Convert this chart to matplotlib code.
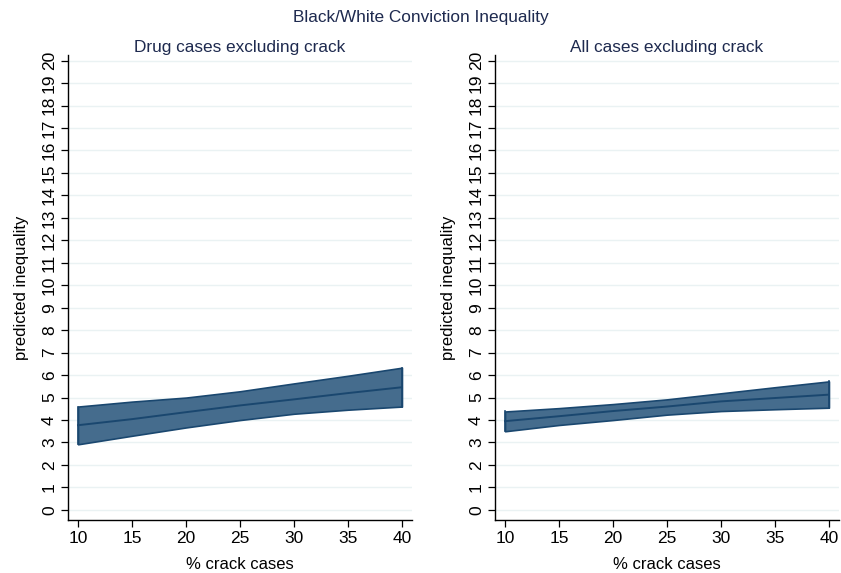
import numpy as np
import matplotlib.pyplot as plt

plt.rcParams['font.family'] = ['Liberation Sans', 'DejaVu Sans']

# predicted black/white conviction inequality by share of crack cases
crack_pct = [10, 15, 20, 25, 30, 35, 40]

drug_fit = [3.77, 4.04, 4.35, 4.65, 4.92, 5.20, 5.46]
drug_lo = [2.92, 3.30, 3.67, 4.00, 4.28, 4.46, 4.60]
drug_hi = [4.60, 4.82, 5.00, 5.28, 5.63, 5.97, 6.33]

all_fit = [3.95, 4.17, 4.40, 4.60, 4.83, 4.98, 5.13]
all_lo = [3.50, 3.78, 4.00, 4.24, 4.40, 4.48, 4.55]
all_hi = [4.38, 4.53, 4.71, 4.92, 5.19, 5.46, 5.72]

panel_titles = ["Drug cases excluding crack", "All cases excluding crack"]
x_ticks = [10, 15, 20, 25, 30, 35, 40]
y_ticks = list(range(0, 21))

navy = "#1a476f"
band = "#456c8d"
txt = "#1e2a4f"
grid_col = "#eaf2f3"

fig = plt.figure(figsize=(8.41, 5.73), dpi=100)
fig.text(0.5, 0.97, "Black/White Conviction Inequality", ha="center", va="center",
         fontsize=12.4, color=txt)

panels = [(drug_fit, drug_lo, drug_hi), (all_fit, all_lo, all_hi)]
lefts = [68 / 841, 495 / 841]
width = 344 / 841
for i, (fit, lo, hi) in enumerate(panels):
    ax = fig.add_axes([lefts[i], 0.0925, width, 0.8115])
    ax.fill_between(crack_pct, lo, hi, facecolor=band, edgecolor=navy, linewidth=1.2, zorder=2)
    ax.plot([crack_pct[0], crack_pct[0]], [lo[0], hi[0]], color=navy, lw=1.2, zorder=3)
    ax.plot([crack_pct[-1], crack_pct[-1]], [lo[-1], hi[-1]], color=navy, lw=1.2, zorder=3)
    ax.plot(crack_pct, fit, color=navy, lw=1.4, zorder=3)

    ax.set_xlim(9.07, 40.93)
    ax.set_ylim(-0.45, 20.25)
    ax.set_xticks(x_ticks)
    ax.set_yticks(y_ticks)
    ax.set_yticklabels([str(v) for v in y_ticks], rotation=90, va="center")
    ax.tick_params(direction="out", length=5, width=0.9, labelsize=12.5, pad=3)
    ax.grid(axis="y", color=grid_col, lw=1.0, zorder=0)
    ax.set_axisbelow(True)
    for s in ["top", "right"]:
        ax.spines[s].set_visible(False)
    for s in ["left", "bottom"]:
        ax.spines[s].set_linewidth(1.0)
    ax.set_title(panel_titles[i], fontsize=12.4, color=txt, pad=1)
    ax.set_xlabel("% crack cases", fontsize=12, labelpad=8)
    ax.set_ylabel("predicted inequality", fontsize=12, labelpad=9)

fig.savefig("out.png", dpi=100)
